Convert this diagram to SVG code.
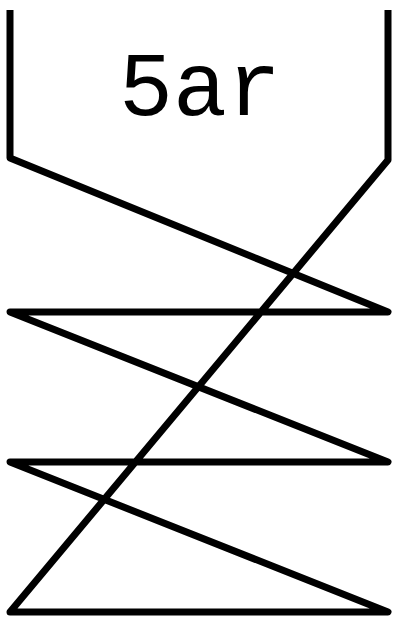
<svg xmlns="http://www.w3.org/2000/svg" width="393" height="618" viewBox="0 0 393 618">
<style>
.ln{fill:none;stroke:#000;stroke-width:7;stroke-linejoin:round;stroke-linecap:butt}
.lb{font-family:"Courier New",Courier,"Nimbus Mono PS","Nimbus Mono L",FreeMono,"Liberation Mono",monospace;font-size:90px;fill:#000}
</style>
<rect width="393" height="618" fill="#fff"/>
<g id="shape">
<polyline class="ln" points="10,10 10,158 388,312 10,312 388,462 10,462 388,612 10,612 388,160 388,10"/>
<text class="lb" x="200" y="115" text-anchor="middle">5ar</text>
</g>
</svg>
